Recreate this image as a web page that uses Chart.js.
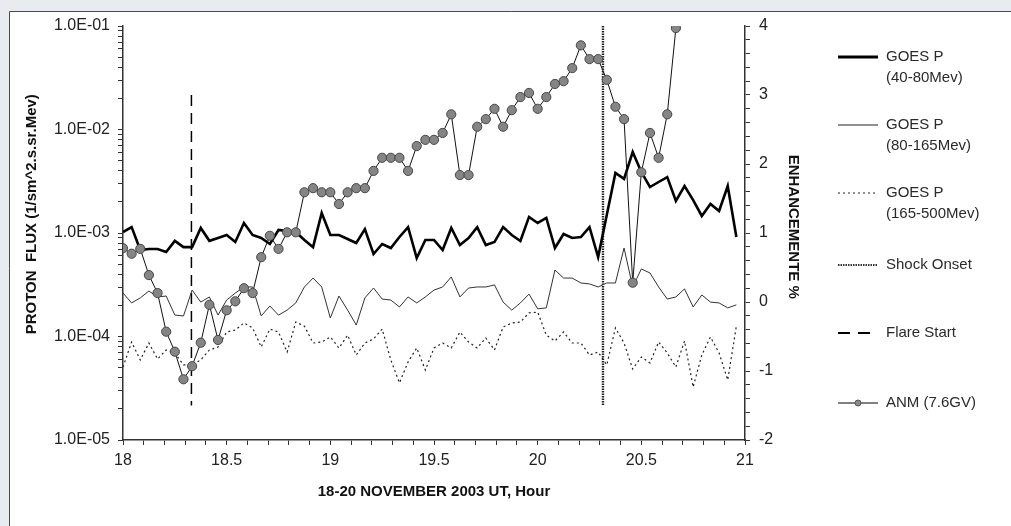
<!DOCTYPE html>
<html><head><meta charset="utf-8">
<script src="https://cdn.jsdelivr.net/npm/chart.js@4.4.1/dist/chart.umd.min.js"></script>
<style>html,body{margin:0;padding:0;background:#e8ecf0;overflow:hidden}canvas{display:block}</style>
</head><body>
<canvas id="c" width="1011" height="526"></canvas>
<script>
// ---- time axis (hourly samples, x in days of November 2003) ----
const START_DAY = 18;
const SAMPLES_PER_DAY = 24;

// ---- GOES P (40-80 MeV) proton flux ----
const goesP5 = [
  1.02e-3, 1.14e-3, 6.85e-4, 7.0e-4, 7.0e-4, 6.55e-4, 8.4e-4, 7.3e-4, 7.3e-4, 1.12e-3,
  8.4e-4, 8.95e-4, 9.56e-4, 8.18e-4, 1.25e-3, 9.56e-4, 8.95e-4, 7.83e-4, 1.07e-3, 1.045e-3,
  1.02e-3, 8.56e-4, 7.3e-4, 1.56e-3, 9.56e-4, 9.56e-4, 8.75e-4, 8.0e-4, 1.09e-3, 6.27e-4,
  7.83e-4, 7.16e-4, 9.15e-4, 1.14e-3, 5.73e-4, 8.56e-4, 8.56e-4, 6.85e-4, 1.12e-3, 7.65e-4,
  8.95e-4, 1.14e-3, 7.65e-4, 8.18e-4, 1.14e-3, 9.56e-4, 8.37e-4, 1.43e-3, 1.25e-3, 1.40e-3,
  7.16e-4, 9.78e-4, 8.95e-4, 9.15e-4, 1.14e-3, 5.86e-4, 1.49e-3, 3.8e-3, 3.33e-3, 6.06e-3,
  3.89e-3, 2.78e-3, 3.11e-3, 3.47e-3, 2.04e-3, 2.84e-3, 2.08e-3, 1.46e-3, 1.91e-3, 1.63e-3,
  2.84e-3, 9.15e-4
];
// ---- GOES P (80-165 MeV) ----
const goesP6 = [
  2.63e-4, 2.11e-4, 2.36e-4, 2.75e-4, 2.41e-4, 2.46e-4, 1.61e-4, 1.58e-4, 2.81e-4, 2.15e-4,
  2.41e-4, 1.61e-4, 2.25e-4, 2.63e-4, 3.01e-4, 3.01e-4, 1.58e-4, 1.97e-4, 1.61e-4, 1.80e-4,
  2.11e-4, 3.01e-4, 3.67e-4, 3.01e-4, 1.51e-4, 2.46e-4, 1.80e-4, 1.29e-4, 2.36e-4, 2.94e-4,
  2.30e-4, 2.25e-4, 1.93e-4, 2.41e-4, 2.11e-4, 2.41e-4, 2.81e-4, 3.01e-4, 3.76e-4, 2.41e-4,
  2.94e-4, 3.01e-4, 3.01e-4, 3.15e-4, 2.15e-4, 1.80e-4, 2.11e-4, 2.57e-4, 1.85e-4, 1.89e-4,
  4.39e-4, 3.67e-4, 3.67e-4, 3.29e-4, 3.22e-4, 3.01e-4, 3.29e-4, 3.29e-4, 7.16e-4, 3.01e-4,
  4.49e-4, 4.11e-4, 3.01e-4, 2.30e-4, 2.41e-4, 2.88e-4, 1.93e-4, 2.52e-4, 2.15e-4, 2.11e-4,
  1.89e-4, 2.02e-4
];
// ---- GOES P (165-500 MeV) ----
const goesP7 = [
  5.07e-5, 8.85e-5, 5.93e-5, 8.65e-5, 6.06e-5, 7.41e-5, 6.93e-5, 5.31e-5, 5.31e-5, 5.93e-5,
  7.41e-5, 7.92e-5, 1.105e-4, 1.155e-4, 1.35e-4, 1.21e-4, 7.92e-5, 1.18e-4, 1.105e-4, 7.08e-5,
  1.38e-4, 1.26e-4, 8.65e-5, 8.85e-5, 9.9e-5, 7.74e-5, 1.03e-4, 6.63e-5, 8.65e-5, 9.46e-5,
  1.18e-4, 5.93e-5, 3.56e-5, 5.67e-5, 7.74e-5, 4.74e-5, 7.74e-5, 8.65e-5, 7.74e-5, 1.105e-4,
  8.85e-5, 7.74e-5, 9.67e-5, 7.41e-5, 1.235e-4, 1.35e-4, 1.38e-4, 1.69e-4, 1.72e-4, 1.03e-4,
  9.05e-5, 1.105e-4, 8.65e-5, 8.65e-5, 6.63e-5, 7.08e-5, 5.31e-5, 1.21e-4, 8.65e-5, 4.85e-5,
  6.34e-5, 5.55e-5, 8.85e-5, 6.93e-5, 5.07e-5, 9.05e-5, 3.25e-5, 6.63e-5, 9.9e-5, 6.93e-5,
  3.8e-5, 1.26e-4
];
// ---- ANM (7.6GV) enhancement, % ----
const anm = [
  0.78, 0.70, 0.77, 0.39, 0.13, -0.43, -0.72, -1.12, -0.93, -0.59,
  -0.04, -0.55, -0.12, 0.01, 0.20, 0.13, 0.65, 0.96, 0.77, 1.01,
  1.01, 1.59, 1.65, 1.59, 1.59, 1.42, 1.59, 1.65, 1.65, 1.90,
  2.09, 2.09, 2.09, 1.90, 2.26, 2.35, 2.35, 2.45, 2.72, 1.84,
  1.84, 2.54, 2.65, 2.80, 2.54, 2.78, 2.97, 3.03, 2.80, 2.97,
  3.16, 3.20, 3.39, 3.72, 3.52, 3.52, 3.22, 2.83, 2.65, 0.28,
  1.88, 2.45, 2.09, 2.72, 3.97
];
// ---- event markers (day, enhancement-axis extent) ----
const flareStart = [{x: 18.33, y: 3.0}, {x: 18.33, y: -1.5}];
const shockOnset = [{x: 20.315, y: 4.0}, {x: 20.315, y: -1.5}];

// ---- axis tick labels ----
const fluxTickValues = [1e-5, 1e-4, 1e-3, 1e-2, 1e-1];
const fluxTickLabels = ['1.0E-05', '1.0E-04', '1.0E-03', '1.0E-02', '1.0E-01'];
const dayTickLabels = ['18', '18.5', '19', '19.5', '20', '20.5', '21'];
const enhTickLabels = ['-2', '-1', '0', '1', '2', '3', '4'];

const X_TITLE = '18-20 NOVEMBER 2003 UT, Hour';
const Y_TITLE = '         PROTON  FLUX (1/sm^2.s.sr.Mev)';
const Y2_TITLE = 'ENHANCEMENTE %   ';
const seriesNames = ['GOES P (40-80Mev)', 'GOES P (80-165Mev)', 'GOES P (165-500Mev)', 'Shock Onset', 'Flare Start', 'ANM (7.6GV)'];

const FONT = "'Liberation Sans', Arial, Helvetica, sans-serif";
const toPts = arr => arr.map((v, i) => ({x: START_DAY + i / SAMPLES_PER_DAY, y: v}));

const legendPlugin = {
  id: 'bgLegend',
  beforeDraw(chart) {
    const ctx = chart.ctx, W = chart.width, H = chart.height;
    ctx.save();
    ctx.fillStyle = '#e8ecf0';
    ctx.fillRect(0, 0, W, H);
    ctx.fillStyle = '#ffffff';
    ctx.fillRect(9, 11, W, H);
    ctx.strokeStyle = '#4a4a4a';
    ctx.lineWidth = 1;
    ctx.beginPath();
    ctx.moveTo(9.5, H); ctx.lineTo(9.5, 11.5); ctx.lineTo(W, 11.5);
    ctx.stroke();
    ctx.restore();
  },
  afterDraw(chart) {
    const ctx = chart.ctx;
    const x0 = 838, x1 = 878, tx = 886;
    const items = [
      {lines: ['GOES P', '(40-80Mev)'], y: 57, w: 3, c: '#000', dash: []},
      {lines: ['GOES P', '(80-165Mev)'], y: 125, w: 1, c: '#222', dash: []},
      {lines: ['GOES P', '(165-500Mev)'], y: 193, w: 1, c: '#222', dash: [2, 3]},
      {lines: ['Shock Onset'], y: 265, w: 2, c: '#333', dash: [1.5, 1]},
      {lines: ['Flare Start'], y: 333, w: 2, c: '#000', dash: [12, 8]},
      {lines: ['ANM (7.6GV)'], y: 403, w: 1, c: '#000', dash: [], marker: true}
    ];
    ctx.save();
    items.forEach(it => {
      ctx.beginPath();
      ctx.setLineDash(it.dash);
      ctx.lineWidth = it.w;
      ctx.strokeStyle = it.c;
      ctx.moveTo(x0, it.y); ctx.lineTo(x1, it.y);
      ctx.stroke();
      ctx.setLineDash([]);
      if (it.marker) {
        ctx.beginPath();
        ctx.arc((x0 + x1) / 2, it.y, 3, 0, Math.PI * 2);
        ctx.fillStyle = '#8a8a8a';
        ctx.fill();
        ctx.lineWidth = 1; ctx.strokeStyle = '#555';
        ctx.stroke();
      }
      ctx.fillStyle = '#2a2a2a';
      ctx.font = '15px ' + FONT;
      ctx.textBaseline = 'middle';
      ctx.textAlign = 'left';
      it.lines.forEach((t, k) => ctx.fillText(t, tx, it.y + k * 21));
    });
    ctx.restore();
  }
};

const tickFont = {family: FONT, size: 16};
const titleFont = {family: FONT, size: 15, weight: 'bold'};

new Chart(document.getElementById('c'), {
  type: 'line',
  data: {
    datasets: [
      {label: seriesNames[5], data: toPts(anm), yAxisID: 'y2', borderColor: '#111', borderWidth: 1,
       pointRadius: 4.6, pointHoverRadius: 4.6, pointBackgroundColor: '#858585', pointBorderColor: '#474747', pointBorderWidth: 1, tension: 0},
      {label: seriesNames[0], data: toPts(goesP5), yAxisID: 'y', borderColor: '#000', borderWidth: 2.6, pointRadius: 0, tension: 0},
      {label: seriesNames[1], data: toPts(goesP6), yAxisID: 'y', borderColor: '#333', borderWidth: 1, pointRadius: 0, tension: 0},
      {label: seriesNames[2], data: toPts(goesP7), yAxisID: 'y', borderColor: '#222', borderWidth: 1.2, borderDash: [2, 3], pointRadius: 0, tension: 0},
      {label: seriesNames[3], data: shockOnset, yAxisID: 'y2', borderColor: '#222', borderWidth: 2.4, borderDash: [1.5, 1], pointRadius: 0},
      {label: seriesNames[4], data: flareStart, yAxisID: 'y2', borderColor: '#000', borderWidth: 1.5, borderDash: [11, 7], pointRadius: 0}
    ]
  },
  options: {
    responsive: false,
    animation: false,
    devicePixelRatio: 1,
    layout: {padding: {left: 0, right: 206, top: 26, bottom: 0}},
    plugins: {legend: {display: false}, tooltip: {enabled: false}},
    scales: {
      x: {
        type: 'linear', position: 'bottom', min: 18, max: 21,
        afterFit: s => { s.height = 86; },
        ticks: {
          stepSize: 0.1, autoSkip: false, maxRotation: 0, padding: 6, color: '#222', font: tickFont,
          callback: v => {
            const idx = dayTickLabels.findIndex(l => Math.abs(parseFloat(l) - v) < 1e-6);
            return idx >= 0 ? dayTickLabels[idx] : '';
          }
        },
        grid: {drawOnChartArea: false, drawTicks: true, tickLength: 5, color: '#333'},
        border: {display: true, color: '#333', width: 1.5},
        title: {display: true, text: X_TITLE, color: '#111', font: titleFont, padding: {top: 0, bottom: 25}}
      },
      y: {
        type: 'logarithmic', position: 'left', min: 1e-5, max: 1e-1,
        afterFit: s => { s.width = 123; },
        afterBuildTicks: s => {
          const t = [];
          for (let e = -5; e <= -2; e++) for (let m = 1; m <= 9; m++) t.push({value: m * Math.pow(10, e)});
          t.push({value: 1e-1});
          s.ticks = t;
        },
        ticks: {
          autoSkip: false, padding: 8, color: '#222', font: tickFont,
          callback: v => {
            const idx = fluxTickValues.findIndex(f => Math.abs(Math.log10(f) - Math.log10(v)) < 1e-6);
            return idx >= 0 ? fluxTickLabels[idx] : '';
          }
        },
        grid: {drawOnChartArea: false, drawTicks: true, tickLength: 5, color: '#333'},
        border: {display: true, color: '#333', width: 1.5},
        title: {display: true, text: Y_TITLE, color: '#111', font: titleFont, padding: {top: 23, bottom: 0}}
      },
      y2: {
        type: 'linear', position: 'right', min: -2, max: 4,
        afterFit: s => { s.width = 60; },
        ticks: {
          stepSize: 0.2, autoSkip: false, padding: 9, color: '#222', font: tickFont,
          callback: v => {
            const idx = enhTickLabels.findIndex(l => Math.abs(parseFloat(l) - v) < 1e-6);
            return idx >= 0 ? enhTickLabels[idx] : '';
          }
        },
        grid: {drawOnChartArea: false, drawTicks: true, tickLength: 5, color: '#333'},
        border: {display: true, color: '#333', width: 1.5},
        title: {display: true, text: Y2_TITLE, color: '#111', font: titleFont, padding: {top: 3, bottom: 0}}
      }
    }
  },
  plugins: [legendPlugin]
});
</script>
</body></html>
